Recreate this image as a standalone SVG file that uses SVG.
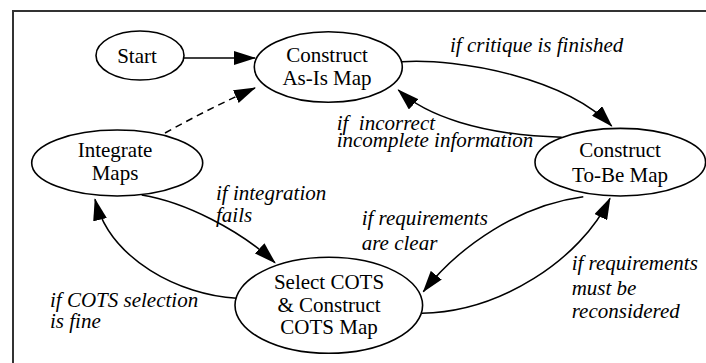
<svg xmlns="http://www.w3.org/2000/svg" width="706" height="363" viewBox="0 0 706 363">
<style>
.node ellipse{fill:#fff;stroke:#000;stroke-width:1.6}
.node text{font-family:"Liberation Serif","Times New Roman",serif;font-size:21px;text-anchor:middle;fill:#000}
.lbl{font-family:"Liberation Serif","Times New Roman",serif;font-size:21px;font-style:italic;fill:#000;white-space:pre}
.edge{fill:none;stroke:#000;stroke-width:1.5;marker-end:url(#ah)}
</style>
<defs>
<marker id="ah" viewBox="0 0 22 14" refX="21" refY="7" markerWidth="22" markerHeight="14" markerUnits="userSpaceOnUse" orient="auto">
<path d="M0,0 L22,7 L0,14 Z" fill="#000"/>
</marker>
</defs>
<rect width="706" height="363" fill="#fff"/>
<path d="M13,363 V11 H706" fill="none" stroke="#333" stroke-width="2"/>
<g id="connectors">
<path class="edge" d="M184,58 L255,58"/>
<path class="edge" d="M165,133 Q210,108 255,88" stroke-dasharray="7,5"/>
<path class="edge" d="M401.7,61.7 C460,58 565,78 611.7,126"/>
<path class="edge" d="M561.7,137.3 C480,135 425,115 398.3,90"/>
<path class="edge" d="M141.7,195 C185,202 240,230 275,262.7"/>
<path class="edge" d="M236.7,298.3 C180,295 110,260 95,199.3"/>
<path class="edge" d="M583.3,196.7 C520,205 460,245 423.3,291.7"/>
<path class="edge" d="M421.7,313.3 C500,312 580,260 610,198.3"/>
</g>
<g id="labels">
<text class="lbl" x="450" y="52">if critique is finished</text>
<text class="lbl" x="336.7" y="129.5">if  incorrect</text>
<text class="lbl" x="336.7" y="147">incomplete information</text>
<text class="lbl" x="216" y="199.5">if integration</text>
<text class="lbl" x="216" y="222">fails</text>
<text class="lbl" x="361.7" y="225">if requirements</text>
<text class="lbl" x="361.7" y="250">are clear</text>
<text class="lbl" x="571.7" y="270">if requirements</text>
<text class="lbl" x="571.7" y="295">must be</text>
<text class="lbl" x="571.7" y="318">reconsidered</text>
<text class="lbl" x="50" y="307">if COTS selection</text>
<text class="lbl" x="50" y="328">is fine</text>
</g>
<g id="start" class="node">
<ellipse cx="140" cy="55.5" rx="44" ry="24.5"/>
<text x="137" y="63.3">Start</text>
</g>
<g id="asis" class="node">
<ellipse cx="328.3" cy="67" rx="74" ry="35.3"/>
<text x="327" y="61.7">Construct</text>
<text x="327" y="85">As-Is Map</text>
</g>
<g id="tobe" class="node">
<ellipse cx="620.3" cy="162.2" rx="85.3" ry="33.8"/>
<text x="620" y="156.7">Construct</text>
<text x="620" y="181.7">To-Be Map</text>
</g>
<g id="integrate" class="node">
<ellipse cx="117.2" cy="163" rx="85.5" ry="33"/>
<text x="115" y="156.7">Integrate</text>
<text x="115" y="180">Maps</text>
</g>
<g id="select" class="node">
<ellipse cx="328.8" cy="305.3" rx="93.8" ry="48"/>
<text x="329" y="289.3">Select COTS</text>
<text x="329" y="311.7">&amp; Construct</text>
<text x="329" y="334.3">COTS Map</text>
</g>
</svg>
